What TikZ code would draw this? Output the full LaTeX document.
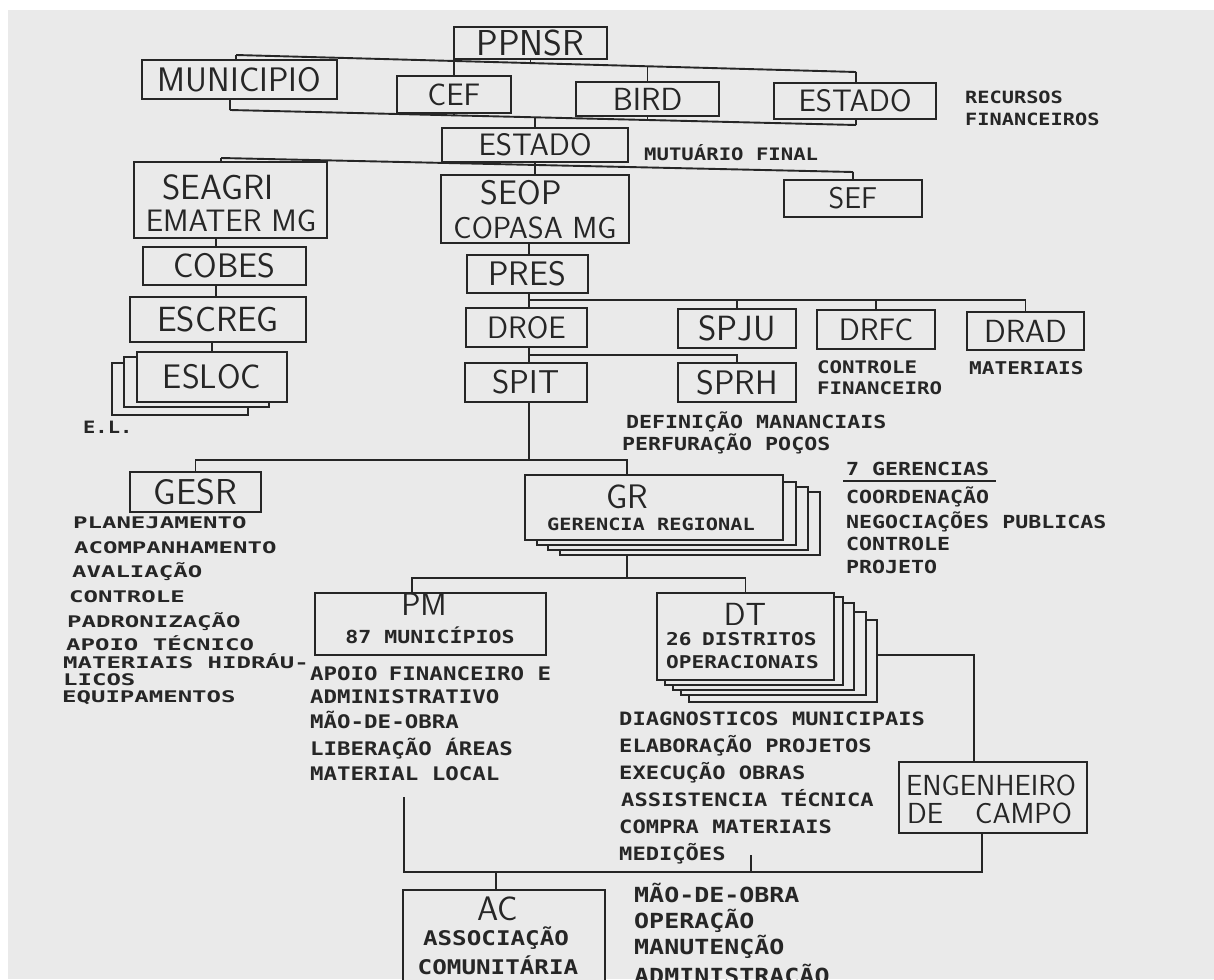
\documentclass[tikz,border=0pt]{standalone}
\usepackage{fontspec}
\newfontfamily\lst{DejaVu Sans Mono}[FakeStretch=1.2]
\newfontfamily\lstw{DejaVu Sans Mono}[FakeStretch=1.5]
\definecolor{inkc}{HTML}{262626}
\definecolor{paper}{HTML}{EAEAEA}
\begin{document}
\begin{tikzpicture}[x=1pt,y=-1pt,
  con/.style={draw=inkc,line width=1.9pt},
  boxn/.style={draw=inkc,line width=1.9pt,fill=paper,inner sep=0pt,text=inkc},
  big/.style={font=\sffamily\fontsize{#1}{#1}\selectfont},
  sm/.style={font=\lst\bfseries\fontsize{#1}{#1}\selectfont},
  smw/.style={font=\lstw\bfseries\fontsize{#1}{#1}\selectfont},
  lbl/.style={inner sep=0pt,text=inkc,anchor=base west},
  ctr/.style={inner sep=0pt,text=inkc,anchor=base}]
\useasboundingbox (0,0) rectangle (1214,979);
\clip (0,0) rectangle (1214,979);
\fill[white] (0,0) rectangle (1214,979);
\fill[paper] (8,10) rectangle (1214,979);

% ---------- boxes ----------
\node[boxn,big=36,minimum width=153pt,minimum height=32pt] (ppnsr) at (530.5,43) {PPNSR};
\node[boxn,big=34,minimum width=195pt,minimum height=39pt] (mun) at (239.5,79.5) {MUNICIPIO};
\node[boxn,big=31,minimum width=114pt,minimum height=37pt] (cef) at (454,94.5) {CEF};
\node[boxn,big=32,minimum width=143pt,minimum height=34pt] (bird) at (647.5,99) {BIRD};
\node[boxn,big=31,minimum width=162pt,minimum height=36pt] (estr) at (855,101) {ESTADO};
\node[boxn,big=31,minimum width=186pt,minimum height=34pt] (estm) at (535,145) {ESTADO};
\node[boxn,minimum width=193pt,minimum height=76pt] (seagri) at (230.5,200) {};
\node[boxn,minimum width=188pt,minimum height=68pt] (seop) at (535,209) {};
\node[boxn,big=30,minimum width=138pt,minimum height=37pt] (sef) at (853,198.5) {SEF};
\node[boxn,big=34,minimum width=163pt,minimum height=38pt] (cobes) at (224.5,266) {COBES};
\node[boxn,big=35,minimum width=176pt,minimum height=45pt] (escreg) at (218,319.5) {ESCREG};
\node[boxn,minimum width=136pt,minimum height=52pt] (es3) at (180,389) {};
\node[boxn,minimum width=145pt,minimum height=50pt] (es2) at (196.5,382) {};
\node[boxn,big=34,minimum width=150pt,minimum height=50pt] (esloc) at (212,377) {ESLOC};
\node[boxn,big=34,minimum width=121pt,minimum height=38pt] (pres) at (527.5,274) {PRES};
\node[boxn,big=31,minimum width=121pt,minimum height=39pt] (droe) at (526.5,327.5) {DROE};
\node[boxn,big=33,minimum width=122pt,minimum height=39pt] (spit) at (526,382.5) {SPIT};
\node[boxn,big=35,minimum width=118pt,minimum height=39pt] (spju) at (737,328.5) {SPJU};
\node[boxn,big=31,minimum width=118pt,minimum height=39pt] (drfc) at (876,329.5) {DRFC};
\node[boxn,big=32,minimum width=117pt,minimum height=38pt] (drad) at (1025.5,331) {DRAD};
\node[boxn,big=34,minimum width=118pt,minimum height=39pt] (sprh) at (737,382.5) {SPRH};
\node[boxn,big=36,minimum width=131pt,minimum height=40pt] (gesr) at (195.5,492) {GESR};
\node[boxn,minimum width=260pt,minimum height=63pt] (gr3) at (690,523.5) {};
\node[boxn,minimum width=260pt,minimum height=63pt] (gr2) at (678,518.5) {};
\node[boxn,minimum width=259pt,minimum height=63pt] (gr1) at (666.5,513.5) {};
\node[boxn,minimum width=258pt,minimum height=65pt] (gr) at (654,507.5) {};
\node[boxn,minimum width=231pt,minimum height=62pt] (pm) at (430.5,624) {};
\node[boxn,minimum width=188pt,minimum height=82pt] (dt4) at (783,661) {};
\node[boxn,minimum width=185pt,minimum height=83pt] (dt3) at (773.5,653.5) {};
\node[boxn,minimum width=181pt,minimum height=87pt] (dt2) at (763.5,646.5) {};
\node[boxn,minimum width=178pt,minimum height=88pt] (dt1) at (754,641) {};
\node[boxn,minimum width=177pt,minimum height=87pt] (dt) at (745.5,636.5) {};
\node[boxn,minimum width=188pt,minimum height=71pt] (eng) at (993,797.5) {};
\node[boxn,minimum width=202pt,minimum height=110pt] (ac) at (504,945) {};

% ---------- texts inside multi-line boxes ----------
\node[ctr,big=35] (seagri1) at (218,199) {SEAGRI};
\node[ctr,big=31] (seagri2) at (231,231) {EMATER MG};
\node[ctr,big=34] (seop1) at (521,204) {SEOP};
\node[ctr,big=30.5] (seop2) at (535,238) {COPASA MG};
\node[ctr,big=34] (gr1t) at (627,508) {GR};
\node[ctr,sm=16.9] (gr2t) at (651,530) {GERENCIA REGIONAL};
\node[ctr,big=32] (pm1t) at (424,615) {PM};
\node[ctr,sm=18] (pm2t) at (430,643) {87 MUNICÍPIOS};
\node[ctr,big=32] (dt1t) at (745,625) {DT};
\node[lbl,sm=17.6] (dt2t) at (666,645) {26\hspace{0.6em}DISTRITOS};
\node[lbl,sm=17.6] (dt3t) at (666,668) {OPERACIONAIS};
\node[lbl,big=29] (eng1) at (906,795) {ENGENHEIRO};
\node[lbl,big=29] (eng2) at (907,823) {DE\hspace{32pt}CAMPO};
\node[ctr,big=34] (ac1) at (498,920) {AC};
\node[ctr,sm=20.2] (ac2) at (496,945) {ASSOCIAÇÃO};
\node[ctr,sm=20.2] (ac3) at (498,974) {COMUNITÁRIA};

% ---------- free labels ----------
\node[lbl,sm=16.9] (rec1) at (965,103) {RECURSOS};
\node[lbl,sm=16.9] (rec2) at (965,125) {FINANCEIROS};
\node[lbl,sm=17.2] (mut) at (644,160) {MUTUÁRIO FINAL};
\node[lbl,sm=17.3] (ctl1) at (817,373) {CONTROLE};
\node[lbl,sm=17.3] (ctl2) at (817,394) {FINANCEIRO};
\node[lbl,sm=17.6] (mat) at (969,374) {MATERIAIS};
\node[lbl,sm=18] (def1) at (626,428) {DEFINIÇÃO MANANCIAIS};
\node[lbl,sm=18] (def2) at (622,450) {PERFURAÇÃO POÇOS};
\node[lbl,sm=17] (el) at (83,433) {E.L.};

\node[lbl,smw=16] (l1) at (73,528) {PLANEJAMENTO};
\node[lbl,smw=16] (l2) at (74,553) {ACOMPANHAMENTO};
\node[lbl,smw=16] (l3) at (72,577) {AVALIAÇÃO};
\node[lbl,smw=16] (l4) at (69,602) {CONTROLE};
\node[lbl,smw=16] (l5) at (67,627) {PADRONIZAÇÃO};
\node[lbl,smw=16] (l6) at (66,650) {APOIO TÉCNICO};
\node[lbl,smw=16] (l7) at (63,668) {MATERIAIS HIDRÁU-};
\node[lbl,smw=16] (l8) at (63,685) {LICOS};
\node[lbl,smw=16] (l9) at (62,702) {EQUIPAMENTOS};

\node[lbl,sm=18] (g7) at (846,475) {7 GERENCIAS};
\draw[con,line width=1.6pt] ([shift={(-3,6)}]g7.base west) -- ([shift={(7,6)}]g7.base east);
\node[lbl,sm=18] (g1) at (846,503) {COORDENAÇÃO};
\node[lbl,sm=18] (g2) at (846,528) {NEGOCIAÇÕES PUBLICAS};
\node[lbl,sm=18] (g3) at (846,550) {CONTROLE};
\node[lbl,sm=18] (g4) at (846,573) {PROJETO};

\node[lbl,sm=18.7] (p1) at (310,680) {APOIO\hspace{0.6em}FINANCEIRO E};
\node[lbl,sm=18.7] (p2) at (310,703) {ADMINISTRATIVO};
\node[lbl,sm=18.7] (p3) at (310,728) {MÃO-DE-OBRA};
\node[lbl,sm=18.7] (p4) at (310,755) {LIBERAÇÃO ÁREAS};
\node[lbl,sm=18.7] (p5) at (310,780) {MATERIAL LOCAL};

\node[lbl,sm=18.4] (d1) at (619,725) {DIAGNOSTICOS MUNICIPAIS};
\node[lbl,sm=18.4] (d2) at (619,752) {ELABORAÇÃO PROJETOS};
\node[lbl,sm=18.4] (d3) at (619,779) {EXECUÇÃO OBRAS};
\node[lbl,sm=18.4] (d4) at (621,806) {ASSISTENCIA TÉCNICA};
\node[lbl,sm=18.4] (d5) at (619,833) {COMPRA MATERIAIS};
\node[lbl,sm=18.4] (d6) at (619,860) {MEDIÇÕES};

\node[lbl,sm=20.8] (a1) at (634,902) {MÃO-DE-OBRA};
\node[lbl,sm=20.8] (a2) at (634,928) {OPERAÇÃO};
\node[lbl,sm=20.8] (a3) at (634,954) {MANUTENÇÃO};
\node[lbl,sm=20.8] (a4) at (634,983) {ADMINISTRAÇÃO};

% ---------- connectors ----------
\coordinate (t1) at (236,55);
\coordinate (t2) at (856,72);
\coordinate (jp) at (530.5,63.1);
\coordinate (jc) at (454,61);
\coordinate (jb) at (647.5,66.3);
\draw[con] (t1) -- (t2);
\draw[con] (t1) -- (t1 |- mun.north);
\draw[con] (ppnsr.south) -- (jp);
\draw[con] (jc) -- (cef.north);
\draw[con] (jb) -- (bird.north);
\draw[con] (t2) -- (t2 |- estr.north);
\coordinate (u1) at (230,110);
\coordinate (u2) at (856,125);
\coordinate (uc) at (454,115.4);
\coordinate (ub) at (647.5,120);
\coordinate (ue) at (535,117.3);
\draw[con] (u1) -- (u2);
\draw[con] (mun.south -| u1) -- (u1);
\draw[con] (cef.south) -- (uc);
\draw[con] (bird.south) -- (ub);
\draw[con] (estr.south -| u2) -- (u2);
\draw[con] (ue) -- (estm.north);
\coordinate (m1) at (221,158);
\coordinate (m2) at (853,172);
\draw[con] (m1) -- (m2);
\draw[con] (m1) -- (m1 |- seagri.north);
\draw[con] (m2) -- (sef.north);
\draw[con] (estm.south) -- (seop.north);
\coordinate (cA) at (216,0);
\coordinate (cB) at (212,0);
\draw[con] (cA |- seagri.south) -- (cA |- cobes.north);
\draw[con] (cA |- cobes.south) -- (cA |- escreg.north);
\draw[con] (cB |- escreg.south) -- (cB |- esloc.north);
\coordinate (cS) at (529,0);
\draw[con] (cS |- seop.south) -- (cS |- pres.north);
\draw[con] (cS |- pres.south) -- (cS |- droe.north);
\draw[con] (cS |- droe.south) -- (cS |- spit.north);
\coordinate (presbus) at (529,300);
\draw[con] (presbus) -| (drad.north);
\draw[con] (presbus -| spju) -- (spju.north);
\draw[con] (presbus -| drfc) -- (drfc.north);
\coordinate (sprhbus) at (529,355);
\draw[con] (sprhbus) -| (sprh.north);
\coordinate (gb) at (529,460);
\coordinate (grtop) at (627,460);
\draw[con] (cS |- spit.south) -- (gb);
\draw[con] (gesr.north) |- (grtop) -- (grtop |- gr.north);
\coordinate (gbot) at (627,578);
\coordinate (pmj) at (412,578);
\draw[con] (gbot |- gr3.south) -- (gbot);
\draw[con] (pmj |- pm.north) -- (pmj) -- (gbot) -| (dt.north);
\coordinate (ec) at (974,655);
\draw[con] (ec -| dt4.east) -- (ec) -- (ec |- eng.north);
\coordinate (pml) at (404,797);
\coordinate (bb) at (404,872);
\coordinate (ebj) at (982,872);
\coordinate (dts) at (751,855);
\coordinate (acj) at (496,872);
\draw[con] (pml) -- (bb) -- (ebj) -- (ebj |- eng.south);
\draw[con] (dts) -- (dts |- bb);
\draw[con] (acj) -- (acj |- ac.north);
\end{tikzpicture}
\end{document}
